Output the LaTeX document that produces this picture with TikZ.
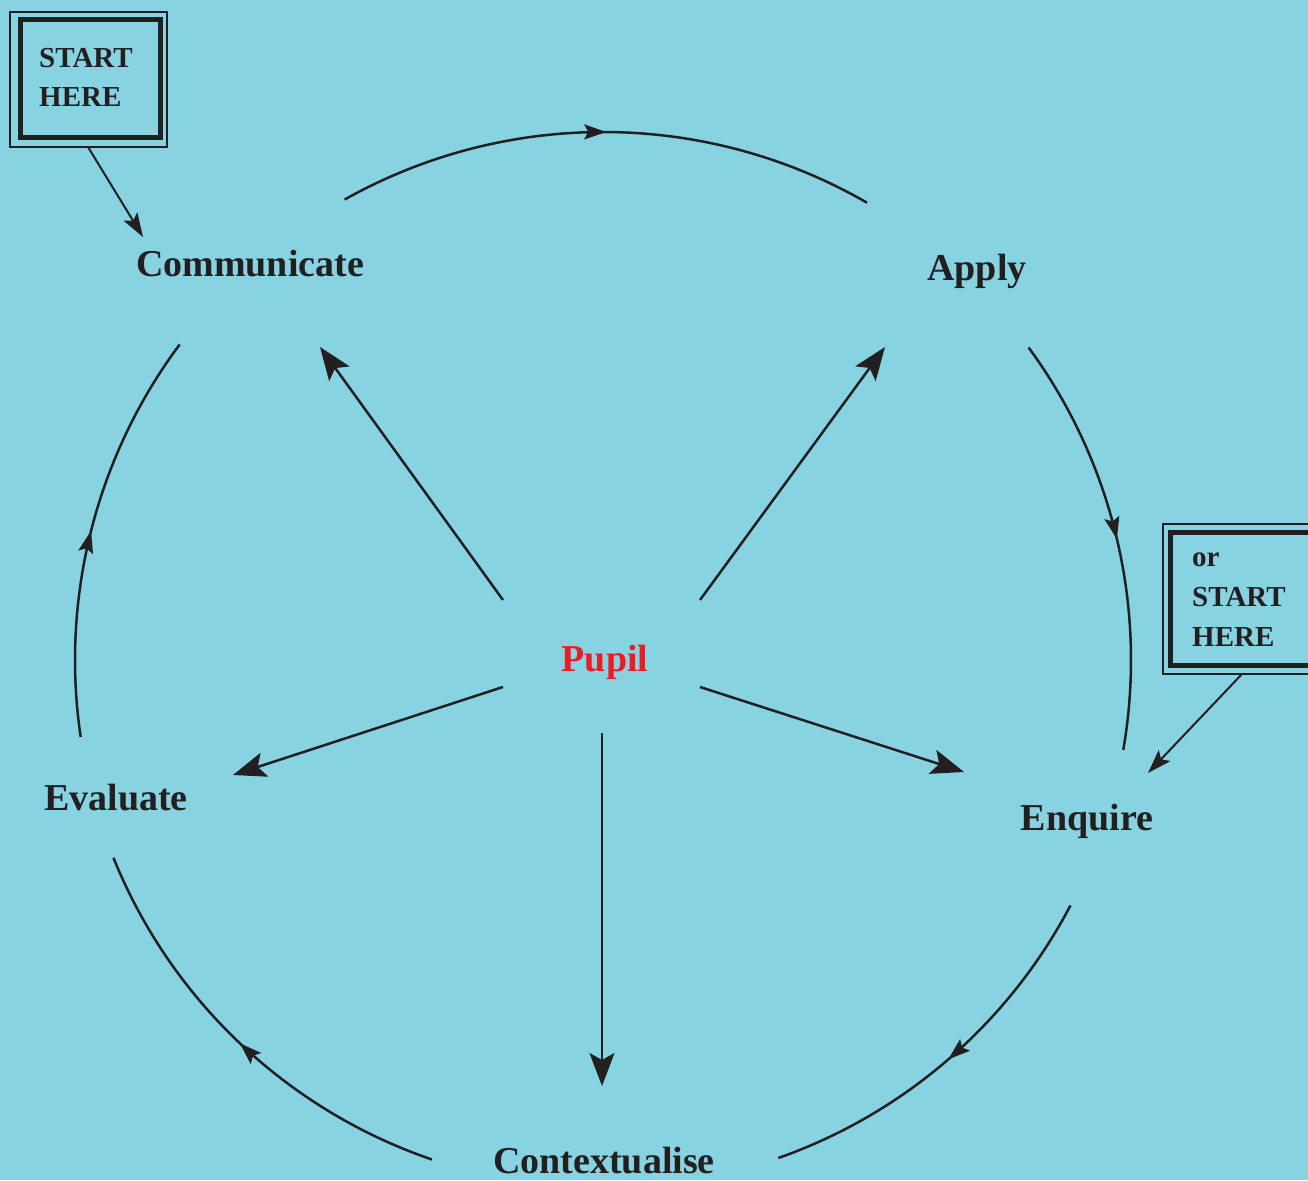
\documentclass[tikz,border=0pt]{standalone}
\usepackage{fontspec}
\setmainfont{Liberation Serif}
\usetikzlibrary{arrows.meta,decorations.markings}
\definecolor{bgblue}{RGB}{135,211,226}
\definecolor{ink}{RGB}{35,31,32}
\definecolor{pupilred}{RGB}{237,28,36}
\tikzset{
  line/.style={draw=ink, line width=2.5pt},
  spoke/.style={line, -{Stealth[length=33pt,width=25pt,inset=7pt]}},
  startarrow/.style={draw=ink, line width=2pt, -{Stealth[length=24pt,width=16pt,inset=5pt]}},
  ringarc/.style={line, postaction={decorate}, decoration={markings,
      mark=at position 0.5 with {\arrow{Stealth[length=22pt,width=15pt,inset=4pt]}}}},
  label/.style={text=ink, font=\bfseries\fontsize{38}{44}\selectfont, inner sep=0pt, anchor=base},
  boxtext/.style={text=ink, font=\bfseries\fontsize{29}{40}\selectfont, inner sep=0pt, anchor=base west},
}
\begin{document}
\begin{tikzpicture}[x=1pt,y=1pt]
\useasboundingbox (0,0) rectangle (1308,1180);
\fill[bgblue] (0,0) rectangle (1308,1180);
\clip (0,0) rectangle (1308,1180);

% centre of the ring
\coordinate (c) at (603,520);

% labels
\node[label] (comm) at (250,903) {Communicate};
\node[label] (apply) at (977,899) {Apply};
\node[label] (enq) at (1087,349) {Enquire};
\node[label] (eval) at (116,369) {Evaluate};
\node[label] (ctx) at (604,7) {Contextualise};
\node[label, text=pupilred] (pupil) at (605,508) {Pupil};

% ring arcs
\draw[ringarc] (c) ++(119.3:528) arc[start angle=119.3, end angle=60, radius=528];
\draw[ringarc] (c) ++(36.3:528) arc[start angle=36.3, end angle=-9.8, radius=528];
\draw[ringarc] (c) ++(-27.7:528) arc[start angle=-27.7, end angle=-70.6, radius=528];
\draw[ringarc] (c) ++(-108.9:528) arc[start angle=-108.9, end angle=-158, radius=528];
\draw[ringarc] (c) ++(188.4:528) arc[start angle=188.4, end angle=143.3, radius=528];

% spokes
\coordinate (s1) at (503,580);  \coordinate (e1) at (320,833);
\coordinate (s2) at (700,580);  \coordinate (e2) at (885,833);
\coordinate (s3) at (503,493);  \coordinate (e3) at (233,405);
\coordinate (s4) at (700,493);  \coordinate (e4) at (964,408);
\coordinate (s5) at (602,447);  \coordinate (e5) at (602,94);
\draw[spoke] (s1) -- (e1);
\draw[spoke] (s2) -- (e2);
\draw[spoke] (s3) -- (e3);
\draw[spoke] (s4) -- (e4);
\draw[spoke] (s5) -- (e5);

% start box 1
\draw[ink, line width=1.2pt] (10,1168) rectangle (167,1033);
\draw[ink, line width=5pt] (20,1160) rectangle (160,1042.5);
\node[boxtext] (st1) at (39,1112) {START};
\node[boxtext] (he1) at (39,1073) {HERE};
\coordinate (b1) at (88,1033);
\coordinate (a1) at (143,943);
\draw[startarrow] (b1) -- (a1);

% start box 2
\draw[ink, line width=1.2pt] (1163,656) rectangle (1340,506);
\draw[ink, line width=5pt] (1170.5,647.5) rectangle (1330,514.5);
\node[boxtext] (or2) at (1192,613) {or};
\node[boxtext] (st2) at (1192,573) {START};
\node[boxtext] (he2) at (1192,533) {HERE};
\coordinate (b2) at (1242,506);
\coordinate (a2) at (1148,407);
\draw[startarrow] (b2) -- (a2);
\end{tikzpicture}
\end{document}
